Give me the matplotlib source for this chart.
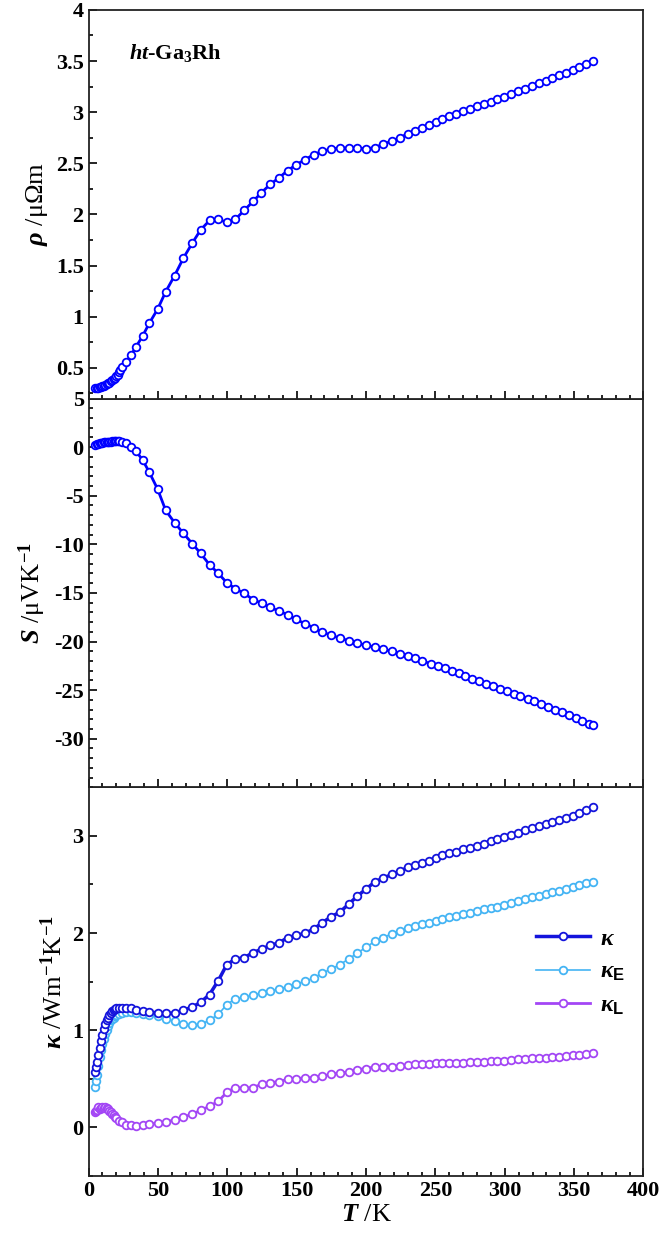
import matplotlib
matplotlib.use("Agg")
import matplotlib.pyplot as plt
from matplotlib.ticker import MultipleLocator

plt.rcParams["font.family"] = ["Liberation Serif", "DejaVu Serif"]
plt.rcParams["font.weight"] = "bold"
plt.rcParams["axes.unicode_minus"] = False
plt.rcParams["mathtext.fontset"] = "custom"
plt.rcParams["mathtext.rm"] = "Liberation Serif:bold"
plt.rcParams["mathtext.it"] = "Liberation Serif:italic:bold"
plt.rcParams["mathtext.bf"] = "Liberation Serif:bold"
plt.rcParams["mathtext.sf"] = "Liberation Sans:bold"

# --- resistivity ---
T_rho = [4.6, 6, 7, 8, 9, 10, 11, 12, 13, 14,
         15, 16, 17, 18, 19, 20, 21, 22, 23,
         24.3, 27.3, 30.7, 34.3, 38.9, 43.7, 49.8, 55.6, 62.0, 68.3,
         74.7, 80.8, 87.2, 93.5, 99.6, 105.7, 112.1, 118.5, 124.5, 130.9,
         137.3, 143.4, 149.7, 156.1, 162.2, 168.6, 175.0, 181.3, 187.4, 193.8,
         199.8, 206.2, 212.3, 218.7, 224.8, 230.2, 235.4, 240.2, 245.1, 250.3,
         255.1, 260.0, 265.1, 270.0, 274.9, 279.7, 284.9, 289.8, 294.6, 299.5,
         304.3, 309.5, 314.3, 319.8, 324.6, 329.5, 334.4, 339.2, 344.1, 349.0,
         353.8, 358.7, 363.6]
rho = [0.301, 0.305, 0.308, 0.312, 0.316, 0.321, 0.327, 0.333, 0.340, 0.348,
       0.357, 0.367, 0.378, 0.390, 0.403, 0.418, 0.435, 0.455, 0.48,
       0.510, 0.562, 0.627, 0.709, 0.810, 0.935, 1.075, 1.245, 1.402, 1.572,
       1.719, 1.850, 1.941, 1.954, 1.922, 1.951, 2.039, 2.127, 2.212, 2.294,
       2.359, 2.428, 2.487, 2.536, 2.585, 2.618, 2.641, 2.650, 2.650, 2.650,
       2.641, 2.654, 2.686, 2.719, 2.752, 2.791, 2.817, 2.850, 2.873, 2.902,
       2.938, 2.961, 2.984, 3.010, 3.033, 3.056, 3.082, 3.101, 3.127, 3.150,
       3.180, 3.203, 3.229, 3.255, 3.281, 3.304, 3.330, 3.359, 3.386, 3.412,
       3.444, 3.467, 3.500]

# --- Seebeck ---
T_S = [4.9, 6, 7, 8, 9, 10, 11, 12, 13, 14, 15, 16, 17, 18, 19, 20, 21, 22,
       24.3, 27.3, 30.7, 34.3, 38.9, 43.7, 49.8, 55.6, 62.0, 68.3,
       74.7, 80.8, 87.2, 93.5, 99.6, 105.7, 112.1, 118.5, 124.8, 130.9,
       137.3, 143.7, 149.7, 156.1, 162.2, 168.6, 175.0, 181.0, 187.4, 193.8,
       199.8, 206.2, 212.3, 218.7, 224.8, 229.9, 235.4, 240.2, 246.6, 251.8,
       256.6, 261.8, 266.7, 271.5, 276.7, 281.5, 286.7, 291.6, 296.7, 301.6,
       306.5, 311.3, 316.5, 321.3, 326.2, 331.1, 336.2, 341.1, 346.2, 351.1,
       356.0, 360.8, 363.3]
S = [0.24, 0.30, 0.35, 0.39, 0.42, 0.45, 0.48, 0.50, 0.52, 0.54, 0.56, 0.58, 0.59, 0.60, 0.61, 0.62, 0.62, 0.61,
     0.58, 0.41, 0.0, -0.44, -1.30, -2.56, -4.33, -6.51, -7.77, -8.86,
     -9.92, -10.94, -12.10, -12.99, -13.94, -14.56, -15.04, -15.68, -16.06, -16.47,
     -16.88, -17.25, -17.73, -18.17, -18.58, -19.02, -19.37, -19.64, -19.91, -20.15,
     -20.39, -20.56, -20.80, -21.00, -21.24, -21.51, -21.72, -21.96, -22.30, -22.50,
     -22.77, -23.05, -23.28, -23.52, -23.83, -24.07, -24.34, -24.58, -24.86, -25.13,
     -25.37, -25.64, -25.88, -26.12, -26.39, -26.70, -27.00, -27.27, -27.55, -27.82,
     -28.13, -28.45, -28.64]

# --- thermal conductivity ---
T_k = [4.8, 5.5, 6, 7, 8, 9, 10, 11, 12, 13, 14, 15, 16, 17, 18, 19, 20, 22,
       24.3, 27.3, 30.7, 34.3, 38.9, 43.7, 49.8, 55.6, 62.0, 68.3,
       74.7, 80.8, 87.2, 93.5, 99.6, 105.7, 112.1, 118.5, 124.8, 130.9,
       137.3, 143.7, 149.7, 156.1, 162.2, 168.6, 175.0, 181.0, 187.4, 193.8,
       199.8, 206.2, 212.3, 218.7, 224.8, 230.2, 235.4, 240.2, 245.1, 250.3,
       255.1, 260.0, 265.1, 270.0, 274.9, 279.7, 284.9, 289.8, 294.6, 299.5,
       304.3, 309.5, 314.3, 319.8, 324.6, 329.5, 334.4, 339.2, 344.1, 349.0,
       353.8, 358.7, 363.6]
kappa = [0.57, 0.62, 0.67, 0.74, 0.82, 0.89, 0.95, 1.01, 1.06, 1.10, 1.13, 1.16, 1.18, 1.20, 1.21, 1.22, 1.225, 1.23,
         1.230, 1.230, 1.227, 1.213, 1.196, 1.186, 1.179, 1.175, 1.175, 1.206,
         1.237, 1.288, 1.367, 1.510, 1.674, 1.732, 1.746, 1.797, 1.835, 1.872,
         1.900, 1.954, 1.975, 1.999, 2.040, 2.108, 2.169, 2.214, 2.296, 2.381,
         2.450, 2.525, 2.566, 2.603, 2.641, 2.675, 2.696, 2.720, 2.743, 2.771,
         2.798, 2.819, 2.839, 2.863, 2.880, 2.897, 2.921, 2.942, 2.966, 2.989,
         3.013, 3.034, 3.058, 3.085, 3.102, 3.126, 3.143, 3.164, 3.181, 3.205,
         3.239, 3.266, 3.293]
kappa_E = [0.42, 0.48, 0.54, 0.63, 0.72, 0.80, 0.86, 0.91, 0.96, 1.00, 1.04, 1.07, 1.10, 1.12, 1.13, 1.15, 1.16, 1.17,
           1.172, 1.186, 1.186, 1.179, 1.162, 1.155, 1.145, 1.117, 1.093, 1.059,
           1.056, 1.059, 1.104, 1.162, 1.264, 1.322, 1.339, 1.360, 1.384, 1.401,
           1.425, 1.449, 1.476, 1.503, 1.537, 1.589, 1.630, 1.674, 1.732, 1.794,
           1.852, 1.913, 1.954, 1.992, 2.023, 2.053, 2.074, 2.094, 2.108, 2.128,
           2.146, 2.166, 2.176, 2.197, 2.210, 2.228, 2.245, 2.258, 2.272, 2.292,
           2.313, 2.330, 2.347, 2.368, 2.385, 2.402, 2.422, 2.436, 2.456, 2.474,
           2.491, 2.511, 2.528]
kappa_L = [0.16, 0.17, 0.18, 0.21, 0.19, 0.20, 0.21, 0.20, 0.21, 0.20, 0.19, 0.17, 0.16, 0.14, 0.13, 0.11, 0.10, 0.07,
           0.051, 0.027, 0.024, 0.010, 0.024, 0.031, 0.044, 0.058, 0.075, 0.109,
           0.133, 0.178, 0.215, 0.270, 0.359, 0.410, 0.403, 0.410, 0.444, 0.461,
           0.471, 0.495, 0.502, 0.509, 0.512, 0.526, 0.550, 0.557, 0.571, 0.594,
           0.605, 0.622, 0.622, 0.625, 0.632, 0.642, 0.649, 0.653, 0.656, 0.659,
           0.663, 0.663, 0.666, 0.666, 0.673, 0.673, 0.676, 0.680, 0.683, 0.687,
           0.694, 0.704, 0.707, 0.711, 0.714, 0.717, 0.724, 0.728, 0.738, 0.741,
           0.745, 0.752, 0.762]

fig, (ax1, ax2, ax3) = plt.subplots(3, 1, sharex=True, figsize=(6.61, 12.35), dpi=100)
fig.subplots_adjust(left=0.134, right=0.9735, top=0.992, bottom=0.0478, hspace=0)

mk = dict(marker="o", markersize=5.5, markerfacecolor="white", markeredgewidth=1.3)

ax1.plot(T_rho, rho, color="#0000FF", linewidth=2, **mk)
ax2.plot(T_S, S, color="#0000FF", linewidth=2, **mk)
ax3.plot(T_k, kappa_L, color="#A346F5", linewidth=2, zorder=2, label=r"$\kappa_{\mathsf{L}}$", **mk)
ax3.plot(T_k, kappa_E, color="#44B4F4", linewidth=1.2, zorder=3, label=r"$\kappa_{\mathsf{E}}$", **mk)
ax3.plot(T_k, kappa, color="#1414DC", linewidth=2.5, zorder=4, label=r"$\kappa$", **mk)

ax1.set_ylim(0.2, 4)
ax1.set_yticks([0.5, 1, 1.5, 2, 2.5, 3, 3.5, 4])
ax1.set_yticklabels(["0.5", "1", "1.5", "2", "2.5", "3", "3.5", "4"])
ax1.yaxis.set_minor_locator(MultipleLocator(0.25))
ax1.set_ylabel(r"$\rho$ /μΩm", fontsize=19, labelpad=4)
ax1.text(0.073, 0.874, r"$\mathit{ht}$-Ga$_3$Rh", transform=ax1.transAxes, fontsize=16, va="baseline")

ax2.set_ylim(-35, 5)
ax2.set_yticks([-30, -25, -20, -15, -10, -5, 0, 5])
ax2.yaxis.set_minor_locator(MultipleLocator(1))
ax2.set_ylabel(r"$S$ /μVK$^{-1}$", fontsize=19, labelpad=4)

ax3.set_ylim(-0.5, 3.5)
ax3.set_yticks([0, 1, 2, 3])
ax3.yaxis.set_minor_locator(MultipleLocator(0.5))
ax3.set_ylabel(r"$\kappa$ /Wm$^{-1}$K$^{-1}$", fontsize=19, labelpad=4)
ax3.set_xlim(0, 400)
ax3.set_xticks(range(0, 401, 50))
ax3.xaxis.set_minor_locator(MultipleLocator(10))
ax3.set_xlabel(r"$T$ /K", fontsize=19, labelpad=2)

h, l = ax3.get_legend_handles_labels()
ax3.legend(h[::-1], l[::-1], loc="upper left", bbox_to_anchor=(0.806, 0.638), frameon=False,
           fontsize=17, handlelength=2.3, handletextpad=0.4, labelspacing=0.5,
           borderpad=0, borderaxespad=0)

for i, ax in enumerate((ax1, ax2, ax3)):
    ax.set_zorder(3 - i)
    ax.tick_params(which="both", direction="in", top=False, right=False, width=1.2, labelsize=16)
    ax.tick_params(which="major", length=6)
    ax.tick_params(which="minor", length=3)
    for lab in ax.get_xticklabels() + ax.get_yticklabels():
        lab.set_fontweight("bold")
    for sp in ax.spines.values():
        sp.set_linewidth(1.3)
        sp.set_color("#222222")

plt.savefig("out.png", dpi=100)
